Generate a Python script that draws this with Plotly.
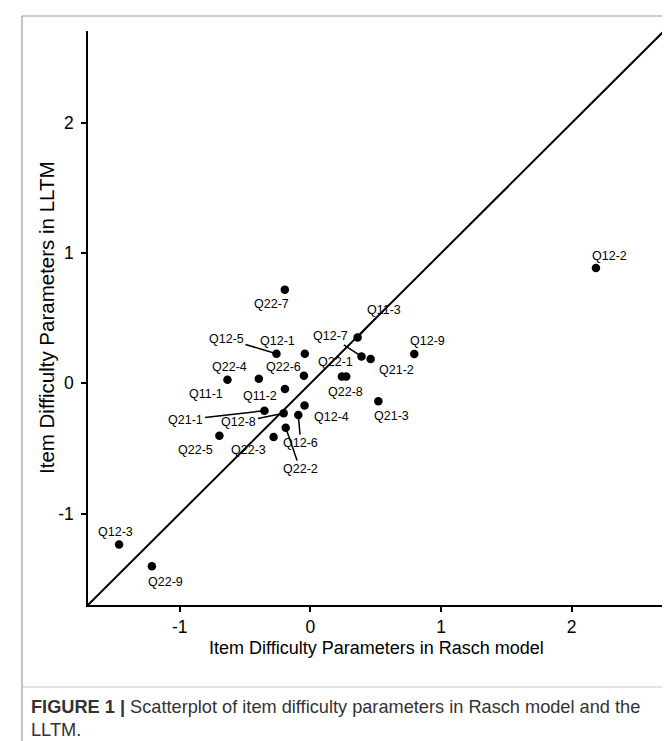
import plotly.graph_objects as go

# ---------------- data ----------------
item_labels = ["Q12-2", "Q12-3", "Q22-9", "Q22-7", "Q12-5", "Q12-1", "Q11-1", "Q22-4",
               "Q22-6", "Q11-2", "Q21-1", "Q12-8", "Q12-6", "Q12-4", "Q22-2", "Q22-3",
               "Q22-5", "Q22-1", "Q22-8", "Q11-3", "Q12-7", "Q21-2", "Q12-9", "Q21-3"]
rasch = [2.186, -1.465, -1.214, -0.196, -0.260, -0.043, -0.635, -0.395,
         -0.050, -0.195, -0.352, -0.205, -0.093, -0.045, -0.189, -0.282,
         -0.697, 0.241, 0.274, 0.361, 0.391, 0.461, 0.795, 0.520]
lltm = [0.887, -1.239, -1.406, 0.720, 0.227, 0.227, 0.028, 0.036,
        0.059, -0.044, -0.210, -0.229, -0.244, -0.171, -0.341, -0.412,
        -0.402, 0.052, 0.052, 0.353, 0.207, 0.187, 0.225, -0.138]
tick_vals = [-1, 0, 1, 2]
tick_text = ["-1", "0", "1", "2"]
axis_range = [-1.703, 2.707]

# label placement (pixels, dy positive = downward) and whether a leader segment is drawn
lab_dx = [14, -4, 14, -13, -50, -27, -21.5, -29, -20, -25, -78.5, -44.7, 2.5, 27, 14.3, -25.6,
          -24, -6.3, -1, 26, -30.8, 26, 13, 13.3]
lab_dy = [-12, -13, 16, 14, -15, -13, 14.4, -11.3, -8.3, 6.6, 9, 9.2, 28, 11, 41.3, 13,
          14.4, -14.3, 15.7, -27.7, -20, 11, -13.4, 14.3]
lab_seg = [False, False, False, False, True, False, False, False, False, False, True, True, True,
           False, True, False, False, False, False, True, True, False, False, False]

W, H = 670, 741
ML, MR, MT, MB = 80, 14, 23, 144
PW, PH = W - ML - MR, H - MT - MB


def px(xp):
    return (xp - ML) / PW


def py(yp):
    return (H - MB - yp) / PH


FONT = "Liberation Sans, Arial, Helvetica, sans-serif"

fig = go.Figure()
fig.add_trace(go.Scatter(x=rasch, y=lltm, mode="markers",
                         marker=dict(color="black", size=8.5), hoverinfo="text",
                         text=item_labels, showlegend=False))

# identity line y = x across the axis range
fig.add_shape(type="line", xref="x", yref="y", x0=axis_range[0], y0=axis_range[0],
              x1=axis_range[1], y1=axis_range[1], line=dict(color="black", width=2), layer="below")

annotations = []
for lab, xv, yv, dx, dy, seg in zip(item_labels, rasch, lltm, lab_dx, lab_dy, lab_seg):
    if seg:
        annotations.append(dict(x=xv, y=yv, xref="x", yref="y", text=lab, showarrow=True,
                                ax=dx, ay=dy, arrowhead=0, arrowwidth=1.5, arrowcolor="black",
                                standoff=0, xanchor="center", yanchor="middle",
                                font=dict(family=FONT, size=12.5, color="black")))
    else:
        annotations.append(dict(x=xv, y=yv, xref="x", yref="y", text=lab, showarrow=False,
                                xshift=dx, yshift=-dy, xanchor="center", yanchor="middle",
                                font=dict(family=FONT, size=12.5, color="black")))

# axis titles
annotations.append(dict(xref="paper", yref="paper", x=0.5, y=py(640), text="Item Difficulty Parameters in Rasch model",
                        showarrow=False, xanchor="center", yanchor="middle",
                        font=dict(family=FONT, size=18, color="black")))
annotations.append(dict(xref="paper", yref="paper", x=px(38), y=0.5, text="Item Difficulty Parameters in LLTM",
                        showarrow=False, xanchor="center", yanchor="middle", textangle=-90,
                        font=dict(family=FONT, size=20.5, color="black")))
# caption (two lines)
cap_font = dict(family=FONT, size=18.2, color="#333333")
annotations.append(dict(xref="paper", yref="paper", x=px(21), y=py(699), xanchor="left", yanchor="middle",
                        align="left", showarrow=False,
                        text="<b>FIGURE 1 |</b> Scatterplot of item difficulty parameters in Rasch model and the",
                        font=cap_font))
annotations.append(dict(xref="paper", yref="paper", x=px(21), y=py(722), xanchor="left", yanchor="middle",
                        align="left", showarrow=False, text="LLTM.", font=cap_font))

# frame
frame_col = "#9a9a9a"
shapes = [
    dict(type="line", xref="paper", yref="paper", x0=px(14), x1=px(14), y0=py(8), y1=py(745),
         line=dict(color=frame_col, width=1.2)),
    dict(type="line", xref="paper", yref="paper", x0=px(666.5), x1=px(666.5), y0=py(8), y1=py(745),
         line=dict(color=frame_col, width=1.2)),
    dict(type="line", xref="paper", yref="paper", x0=px(14), x1=px(666.5), y0=py(8), y1=py(8),
         line=dict(color=frame_col, width=1.2)),
    dict(type="line", xref="paper", yref="paper", x0=px(14), x1=px(666.5), y0=py(679), y1=py(679),
         line=dict(color="#c8c8c8", width=1)),
]
for s in shapes:
    fig.add_shape(**s)

axis_common = dict(range=axis_range, showline=True, linecolor="black", linewidth=1.5,
                   ticks="outside", ticklen=5, tickwidth=1.5, tickcolor="black",
                   tickvals=tick_vals, ticktext=tick_text, showgrid=False, zeroline=False,
                   tickfont=dict(family=FONT, size=17.5, color="black"))
fig.update_xaxes(**axis_common, ticklabelstandoff=0)
fig.update_yaxes(**axis_common, ticklabelstandoff=4)

fig.update_layout(width=W, height=H, margin=dict(l=ML, r=MR, t=MT, b=MB, autoexpand=False),
                  plot_bgcolor="white", paper_bgcolor="white", annotations=annotations,
                  font=dict(family=FONT))

fig.write_html("out.html")
